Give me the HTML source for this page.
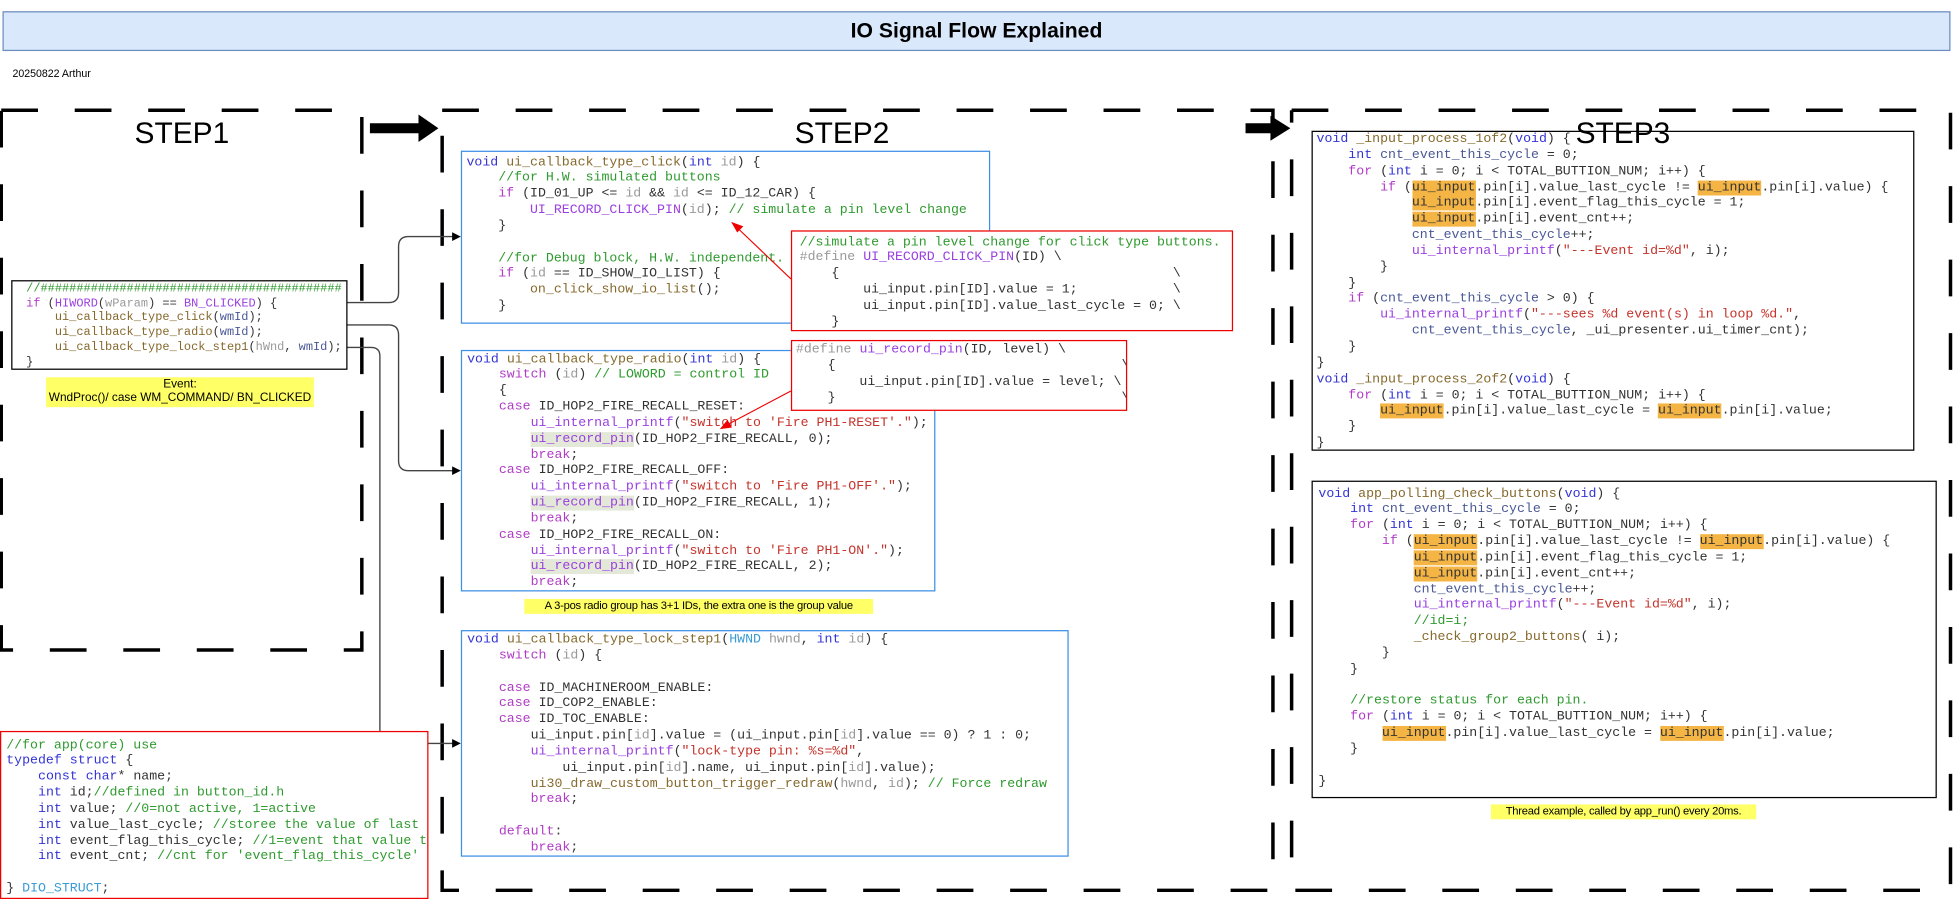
<!DOCTYPE html>
<html><head><meta charset="utf-8"><style>
html,body{margin:0;padding:0;background:#fff;}
body{width:1953px;height:899px;overflow:hidden;position:relative;}
#c{position:absolute;left:0;top:0;width:1568px;height:722px;transform:scale(1.24553,1.2452);transform-origin:0 0;}
.code{position:absolute;white-space:pre;font-family:"Liberation Mono",monospace;font-size:10.63px;line-height:12.85px;color:#333;overflow:hidden;box-sizing:border-box;background:#fff;}
.k{color:#3434d6}.c{color:#b03cc6}.f{color:#86692c}.m{color:#9a40e0}.s{color:#c4332b}.g{color:#2f9a2f}.p{color:#999}.v{color:#4a5896}.t{color:#3a9bd5}
.h{background:#f4b544}.hg{background:#e3e8d8}
.lbl{position:absolute;font-family:"Liberation Sans",sans-serif;color:#000;}
.note{position:absolute;background:#ffff66;font-family:"Liberation Sans",sans-serif;font-size:9px;line-height:11px;color:#000;text-align:center;letter-spacing:-0.2px;}
</style></head><body><div id="c">
<div style="position:absolute;left:2px;top:9px;width:1562px;height:30px;background:#dae8fc;border:1px solid #6c8ebf;"></div>
<div class="lbl" style="left:2px;top:9px;width:1564px;height:32px;line-height:31px;text-align:center;font-size:17px;font-weight:bold;">IO Signal Flow Explained</div>
<div class="lbl" style="left:10px;top:54px;font-size:8.5px;">20250822 Arthur</div>

<svg style="position:absolute;left:0;top:0" width="1568" height="722" viewBox="0 0 1568 722">
<g fill="none" stroke="#000" stroke-width="2.8" stroke-dasharray="29.5 29.5">
<path d="M1 88.5 H290.5 V522 H1 V88.5"/>
<path d="M355 88.5 H1022 V715 H355 V88.5"/>
<path d="M1037 88.5 H1566 V715 H1037 V88.5"/>
</g>
<path d="M297 99 H336 V92 L352 103 L336 114 V107 H297 Z" fill="#000"/>
<path d="M1000 99 H1020 V93 L1036 103 L1020 113 V107 H1000 Z" fill="#000"/>
<g fill="none" stroke="#444" stroke-width="1.1">
<path d="M279 243 H312 Q320 243 320 235 V198 Q320 190 328 190 H365"/>
<path d="M279 261 H312 Q320 261 320 269 V370 Q320 378 328 378 H365"/>
<path d="M279 279 H298 Q305 279 305 286 V590 Q305 597 312 597 H365"/>
</g>
<g fill="#000"><path d="M370 190 l-7 -3.5 v7z"/><path d="M370 378 l-7 -3.5 v7z"/><path d="M370 597 l-7 -3.5 v7z"/></g>
</svg>

<div class="lbl" style="left:108px;top:94px;font-size:24px;">STEP1</div>
<div class="lbl" style="left:638px;top:94px;font-size:24px;">STEP2</div>

<!-- step1 code -->
<div class="code" style="left:9px;top:225px;width:270px;height:72px;border:1px solid #000;padding:0 0 0 11px;font-size:9.6px;line-height:11.7px;"><span class="g">//##########################################</span>
<span class="c">if</span> (<span class="m">HIWORD</span>(<span class="p">wParam</span>) == <span class="m">BN_CLICKED</span>) {
    <span class="f">ui_callback_type_click</span>(<span class="v">wmId</span>);
    <span class="f">ui_callback_type_radio</span>(<span class="v">wmId</span>);
    <span class="f">ui_callback_type_lock_step1</span>(<span class="p">hWnd</span>, <span class="v">wmId</span>);
}</div>
<div class="note" style="left:37px;top:303px;width:215px;height:24px;font-size:9.5px;letter-spacing:0;">Event:<br>WndProc()/ case WM_COMMAND/ BN_CLICKED</div>

<!-- step2 box1 -->
<div class="code" style="left:370px;top:121px;width:425px;height:139px;border:1px solid #3d8fe8;padding:2.5px 0 0 3.5px;"><span class="k">void</span> <span class="f">ui_callback_type_click</span>(<span class="k">int</span> <span class="p">id</span>) {
    <span class="g">//for H.W. simulated buttons</span>
    <span class="c">if</span> (ID_01_UP &lt;= <span class="p">id</span> &amp;&amp; <span class="p">id</span> &lt;= ID_12_CAR) {
        <span class="m">UI_RECORD_CLICK_PIN</span>(<span class="p">id</span>); <span class="g">// simulate a pin level change</span>
    }

    <span class="g">//for Debug block, H.W. independent.</span>
    <span class="c">if</span> (<span class="p">id</span> == ID_SHOW_IO_LIST) {
        <span class="f">on_click_show_io_list</span>();
    }</div>

<!-- step2 box2 -->
<div class="code" style="left:370px;top:281px;width:381px;height:194px;border:1px solid #3d8fe8;padding:0.5px 0 0 4px;"><span class="k">void</span> <span class="f">ui_callback_type_radio</span>(<span class="k">int</span> <span class="p">id</span>) {
    <span class="c">switch</span> (<span class="p">id</span>) <span class="g">// LOWORD = control ID</span>
    {
    <span class="c">case</span> ID_HOP2_FIRE_RECALL_RESET:
        <span class="m">ui_internal_printf</span>(<span class="s">"switch to 'Fire PH1-RESET'."</span>);
        <span class="m hg">ui_record_pin</span>(ID_HOP2_FIRE_RECALL, 0);
        <span class="c">break</span>;
    <span class="c">case</span> ID_HOP2_FIRE_RECALL_OFF:
        <span class="m">ui_internal_printf</span>(<span class="s">"switch to 'Fire PH1-OFF'."</span>);
        <span class="m hg">ui_record_pin</span>(ID_HOP2_FIRE_RECALL, 1);
        <span class="c">break</span>;
    <span class="c">case</span> ID_HOP2_FIRE_RECALL_ON:
        <span class="m">ui_internal_printf</span>(<span class="s">"switch to 'Fire PH1-ON'."</span>);
        <span class="m hg">ui_record_pin</span>(ID_HOP2_FIRE_RECALL, 2);
        <span class="c">break</span>;</div>
<div class="note" style="left:421px;top:481px;width:280px;height:12px;">A 3-pos radio group has 3+1 IDs, the extra one is the group value</div>

<!-- red boxes -->
<div class="code" style="left:635px;top:185px;width:355px;height:81px;border:1px solid #e00;padding:2.5px 0 0 6px;"><span class="g">//simulate a pin level change for click type buttons.</span>
<span class="p">#define</span> <span class="m">UI_RECORD_CLICK_PIN</span>(ID) \
    {                                          \
        ui_input.pin[ID].value = 1;            \
        ui_input.pin[ID].value_last_cycle = 0; \
    }</div>
<div class="code" style="left:635px;top:273px;width:270px;height:57px;border:1px solid #e00;padding:1px 0 0 3px;"><span class="p">#define</span> <span class="m">ui_record_pin</span>(ID, level) \
    {                                    \
        ui_input.pin[ID].value = level; \
    }                                    \</div>

<!-- step2 box3 -->
<div class="code" style="left:370px;top:506px;width:488px;height:182px;border:1px solid #3d8fe8;padding:1px 0 0 4px;"><span class="k">void</span> <span class="f">ui_callback_type_lock_step1</span>(<span class="t">HWND</span> <span class="p">hwnd</span>, <span class="k">int</span> <span class="p">id</span>) {
    <span class="c">switch</span> (<span class="p">id</span>) {

    <span class="c">case</span> ID_MACHINEROOM_ENABLE:
    <span class="c">case</span> ID_COP2_ENABLE:
    <span class="c">case</span> ID_TOC_ENABLE:
        ui_input.pin[<span class="p">id</span>].value = (ui_input.pin[<span class="p">id</span>].value == 0) ? 1 : 0;
        <span class="m">ui_internal_printf</span>(<span class="s">"lock-type pin: %s=%d"</span>,
            ui_input.pin[<span class="p">id</span>].name, ui_input.pin[<span class="p">id</span>].value);
        <span class="f">ui30_draw_custom_button_trigger_redraw</span>(<span class="p">hwnd</span>, <span class="p">id</span>); <span class="g">// Force redraw</span>
        <span class="c">break</span>;

    <span class="c">default</span>:
        <span class="c">break</span>;</div>

<!-- bottom-left red -->
<div class="code" style="left:0px;top:587px;width:344px;height:135px;border:1px solid #e00;padding:4.5px 0 0 4px;"><span class="g">//for app(core) use</span>
<span class="k">typedef</span> <span class="k">struct</span> {
    <span class="k">const</span> <span class="k">char</span>* name;
    <span class="k">int</span> id;<span class="g">//defined in button_id.h</span>
    <span class="k">int</span> value; <span class="g">//0=not active, 1=active</span>
    <span class="k">int</span> value_last_cycle; <span class="g">//storee the value of last cycle</span>
    <span class="k">int</span> event_flag_this_cycle; <span class="g">//1=event that value toggled</span>
    <span class="k">int</span> event_cnt; <span class="g">//cnt for 'event_flag_this_cycle'</span>

} <span class="t">DIO_STRUCT</span>;</div>

<svg style="position:absolute;left:0;top:0" width="1568" height="722" viewBox="0 0 1568 722">
<g stroke="#e00" stroke-width="0.9" fill="#e00">
<line x1="635" y1="224" x2="592" y2="183"/>
<path d="M588 179 l8 3 l-4 4z"/>
<line x1="635" y1="314" x2="584" y2="341"/>
<path d="M579 344 l5 -6 l3 5z"/>
</g>
</svg>

<!-- step3 box1 -->
<div class="code" style="left:1053px;top:105px;width:484px;height:257px;border:1px solid #000;padding:0 0 0 3px;background:transparent;"><span class="k">void</span> <span class="f">_input_process_1of2</span>(<span class="k">void</span>) {
    <span class="k">int</span> <span class="v">cnt_event_this_cycle</span> = 0;
    <span class="c">for</span> (<span class="k">int</span> i = 0; i &lt; TOTAL_BUTTION_NUM; i++) {
        <span class="c">if</span> (<span class="h">ui_input</span>.pin[i].value_last_cycle != <span class="h">ui_input</span>.pin[i].value) {
            <span class="h">ui_input</span>.pin[i].event_flag_this_cycle = 1;
            <span class="h">ui_input</span>.pin[i].event_cnt++;
            <span class="v">cnt_event_this_cycle</span>++;
            <span class="m">ui_internal_printf</span>(<span class="s">"---Event id=%d"</span>, i);
        }
    }
    <span class="c">if</span> (<span class="v">cnt_event_this_cycle</span> &gt; 0) {
        <span class="m">ui_internal_printf</span>(<span class="s">"---sees %d event(s) in loop %d."</span>,
            <span class="v">cnt_event_this_cycle</span>, _ui_presenter.ui_timer_cnt);
    }
}
<span class="k">void</span> <span class="f">_input_process_2of2</span>(<span class="k">void</span>) {
    <span class="c">for</span> (<span class="k">int</span> i = 0; i &lt; TOTAL_BUTTION_NUM; i++) {
        <span class="h">ui_input</span>.pin[i].value_last_cycle = <span class="h">ui_input</span>.pin[i].value;
    }
}</div>
<div class="lbl" style="left:1265px;top:94px;font-size:24px;">STEP3</div>

<!-- step3 box2 -->
<div class="code" style="left:1053px;top:386px;width:502px;height:255px;border:1px solid #000;padding:3.5px 0 0 4.5px;"><span class="k">void</span> <span class="f">app_polling_check_buttons</span>(<span class="k">void</span>) {
    <span class="k">int</span> <span class="v">cnt_event_this_cycle</span> = 0;
    <span class="c">for</span> (<span class="k">int</span> i = 0; i &lt; TOTAL_BUTTION_NUM; i++) {
        <span class="c">if</span> (<span class="h">ui_input</span>.pin[i].value_last_cycle != <span class="h">ui_input</span>.pin[i].value) {
            <span class="h">ui_input</span>.pin[i].event_flag_this_cycle = 1;
            <span class="h">ui_input</span>.pin[i].event_cnt++;
            <span class="v">cnt_event_this_cycle</span>++;
            <span class="m">ui_internal_printf</span>(<span class="s">"---Event id=%d"</span>, i);
            <span class="g">//id=i;</span>
            <span class="f">_check_group2_buttons</span>( i);
        }
    }

    <span class="g">//restore status for each pin.</span>
    <span class="c">for</span> (<span class="k">int</span> i = 0; i &lt; TOTAL_BUTTION_NUM; i++) {
        <span class="h">ui_input</span>.pin[i].value_last_cycle = <span class="h">ui_input</span>.pin[i].value;
    }

}</div>
<div class="note" style="left:1197px;top:646px;width:213px;height:12px;">Thread example, called by app_run() every 20ms.</div>
</div></body></html>
